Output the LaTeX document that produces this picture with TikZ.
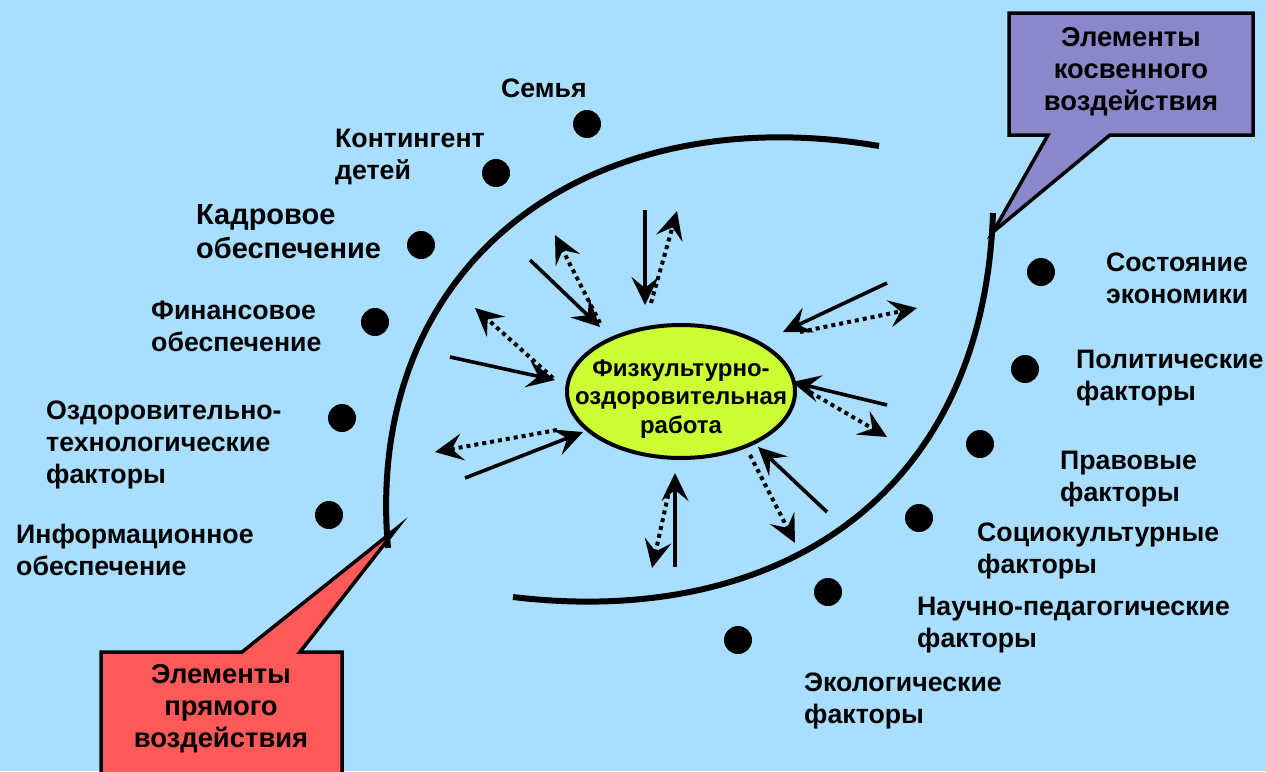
\documentclass[tikz,border=0pt]{standalone}
\usepackage{fontspec}
\setmainfont{Liberation Sans}
\usetikzlibrary{arrows.meta,shapes.geometric}
\definecolor{bg}{RGB}{170,222,255}
\definecolor{yg}{RGB}{204,255,51}
\definecolor{redc}{RGB}{255,89,89}
\definecolor{purc}{RGB}{138,135,202}
\newcommand\lblf{\fontsize{26.7}{32}\selectfont\bfseries}
\newcommand\lblbig{\fontsize{29}{34}\selectfont\bfseries}
\newcommand\ctrf{\fontsize{24}{28.5}\selectfont\bfseries}
\newcommand\calf{\fontsize{27.4}{32}\selectfont\bfseries}
\newcommand\fst{\rule{0pt}{21pt}}
\begin{document}
\begin{tikzpicture}[x=1pt,y=-1pt,
 lbl/.style={anchor=north west, inner sep=0pt, align=left, font=\lblf},
 dot/.style={circle, fill=black, minimum size=28pt, inner sep=0pt},
 bigarc/.style={line width=6pt},
 tip/.style={-{Stealth[length=28pt,width=27pt,inset=11pt]}},
 inarr/.style={tip, line width=3.6pt},
 outarr/.style={tip, line width=4pt, dash pattern=on 4pt off 4pt},
 callout/.style={draw=black, line width=3.5pt, line join=miter},
 ctext/.style={anchor=north, inner sep=0pt, align=center, font=\calf},
]
\useasboundingbox (0,0) rectangle (1266,771);
\fill[bg] (0,0) rectangle (1266,771);
\clip (0,0) rectangle (1266,771);

% big arcs
\draw[bigarc] (388,548) .. controls (363,259) and (592,97) .. (879,146);
\draw[bigarc] (993,213) .. controls (983,503) and (770,628) .. (513,597);

% callouts
\draw[callout, fill=purc] (1009,13) -- (1253,13) -- (1253,135) -- (1110,135) -- (993,232) -- (1048,135) -- (1009,135) -- cycle;
\node[ctext] (kos) at (1131,25) {\fst Элементы\\косвенного\\воздействия};
\draw[callout, fill=redc] (101,652) -- (242,652) -- (397,528) -- (300,652) -- (342,652) -- (342,790) -- (101,790) -- cycle;
\node[ctext] (pry) at (221,662) {\fst Элементы\\прямого\\воздействия};

% central ellipse
\node[draw, line width=4pt, fill=yg, ellipse, minimum width=228pt, minimum height=133pt, inner sep=0pt] (fz) at (681,391.5) {};
\node[ctext, font=\ctrf] (fzt) at (681,355) {\fst Физкультурно-\\оздоровительная\\работа};

% arrow end points
\coordinate (s1a) at (530,260); \coordinate (s1b) at (600,327);
\coordinate (s2a) at (645,210); \coordinate (s2b) at (645,305);
\coordinate (s3a) at (450,357); \coordinate (s3b) at (555,380);
\coordinate (s4a) at (887,283); \coordinate (s4b) at (783,332);
\coordinate (s5a) at (887,405); \coordinate (s5b) at (792,382);
\coordinate (s6a) at (465,478); \coordinate (s6b) at (583,432);
\coordinate (s7a) at (675,567); \coordinate (s7b) at (675,473);
\coordinate (s8a) at (827,512); \coordinate (s8b) at (758,447);
\coordinate (d1a) at (600,323); \coordinate (d1b) at (555,235);
\coordinate (d2a) at (651,303); \coordinate (d2b) at (677,211);
\coordinate (d3a) at (553,378); \coordinate (d3b) at (475,308);
\coordinate (d4a) at (800,332); \coordinate (d4b) at (917,308);
\coordinate (d5a) at (810,392); \coordinate (d5b) at (887,437);
\coordinate (d6a) at (557,430); \coordinate (d6b) at (435,452);
\coordinate (d7a) at (670,487); \coordinate (d7b) at (652,568);
\coordinate (d8a) at (750,455); \coordinate (d8b) at (795,543);

\foreach \i in {1,...,8} {
  \draw[outarr] (d\i a) -- (d\i b);
  \draw[inarr] (s\i a) -- (s\i b);
}

% dots
\node[dot] (p1) at (587,124) {};
\node[dot] (p2) at (496,173) {};
\node[dot] (p3) at (421,245) {};
\node[dot] (p4) at (375,322) {};
\node[dot] (p5) at (342,418) {};
\node[dot] (p6) at (329,515) {};
\node[dot] (q1) at (1041,272) {};
\node[dot] (q2) at (1025,369) {};
\node[dot] (q3) at (980,444) {};
\node[dot] (q4) at (919,518) {};
\node[dot] (q5) at (828,592) {};
\node[dot] (q6) at (738,640) {};

% labels
\node[lbl] (t1) at (501,76) {\fst Семья};
\node[lbl] (t2) at (335,126) {\fst Контингент\\детей};
\node[lbl, font=\lblbig] (t3) at (196,203) {\fst Кадровое\\обеспечение};
\node[lbl] (t4) at (151,298) {\fst Финансовое\\обеспечение};
\node[lbl] (t5) at (46,398) {\fst Оздоровительно-\\технологические\\факторы};
\node[lbl] (t6) at (16,522) {\fst Информационное\\обеспечение};
\node[lbl] (u1) at (1106,250) {\fst Состояние\\экономики};
\node[lbl] (u2) at (1076,347) {\fst Политические\\факторы};
\node[lbl] (u3) at (1060,448) {\fst Правовые\\факторы};
\node[lbl] (u4) at (977,520) {\fst Социокультурные\\факторы};
\node[lbl] (u5) at (917,594) {\fst Научно-педагогические\\факторы};
\node[lbl] (u6) at (804,670) {\fst Экологические\\факторы};
\end{tikzpicture}
\end{document}
